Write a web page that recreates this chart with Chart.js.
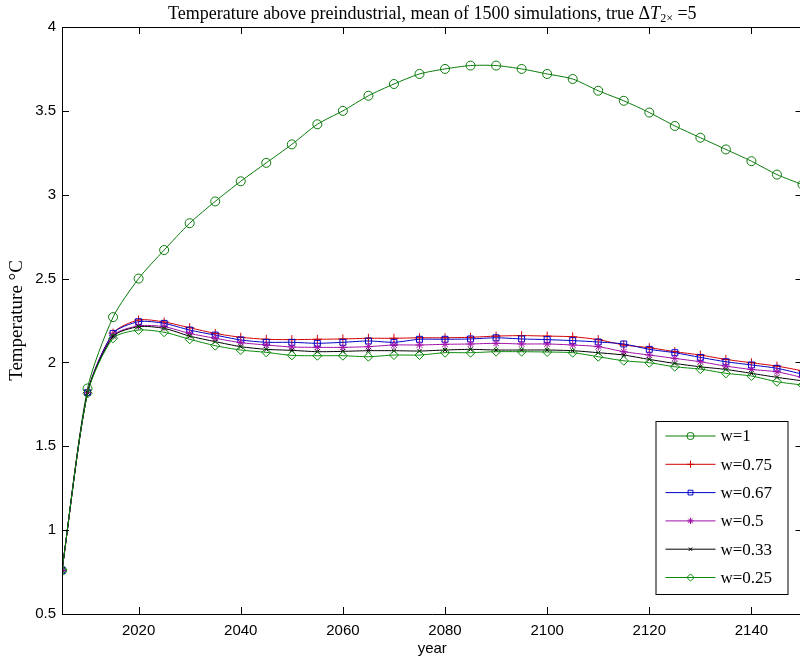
<!DOCTYPE html>
<html>
<head>
<meta charset="utf-8">
<script src="https://cdn.jsdelivr.net/npm/chart.js@4"></script>
<style>
  html, body { margin: 0; padding: 0; background: #fff; overflow: hidden; }
  #wrap { width: 808px; height: 662px; position: relative; }
</style>
</head>
<body>
<div id="wrap"><canvas id="grafica"></canvas></div>
<script>
// years with a marker every 5 years
const years = [2005, 2010, 2015, 2020, 2025, 2030, 2035, 2040, 2045, 2050,
  2055, 2060, 2065, 2070, 2075, 2080, 2085, 2090, 2095, 2100,
  2105, 2110, 2115, 2120, 2125, 2130, 2135, 2140, 2145, 2150];

const w100 = [0.76, 1.845, 2.27, 2.50, 2.67, 2.83, 2.96, 3.08, 3.19, 3.30,
  3.42, 3.50, 3.59, 3.66, 3.72, 3.75, 3.77, 3.77, 3.75, 3.72,
  3.69, 3.62, 3.56, 3.49, 3.41, 3.34, 3.27, 3.20, 3.12, 3.06];
const w075 = [0.76, 1.82, 2.175, 2.253, 2.241, 2.207, 2.173, 2.15, 2.138, 2.136,
  2.138, 2.14, 2.144, 2.144, 2.147, 2.147, 2.15, 2.157, 2.16, 2.157,
  2.153, 2.136, 2.104, 2.088, 2.064, 2.044, 2.018, 1.998, 1.978, 1.95];
const w067 = [0.76, 1.82, 2.173, 2.243, 2.233, 2.193, 2.163, 2.134, 2.12, 2.12,
  2.114, 2.12, 2.128, 2.12, 2.138, 2.138, 2.14, 2.147, 2.14, 2.136,
  2.13, 2.122, 2.11, 2.078, 2.058, 2.03, 2.004, 1.985, 1.965, 1.93];
const w050 = [0.76, 1.82, 2.16, 2.218, 2.213, 2.173, 2.144, 2.118, 2.104, 2.092,
  2.09, 2.09, 2.094, 2.104, 2.104, 2.108, 2.11, 2.114, 2.11, 2.11,
  2.104, 2.094, 2.064, 2.044, 2.024, 2.004, 1.978, 1.958, 1.944, 1.91];
const w033 = [0.76, 1.82, 2.155, 2.213, 2.203, 2.157, 2.124, 2.094, 2.078, 2.072,
  2.064, 2.066, 2.07, 2.07, 2.068, 2.074, 2.078, 2.074, 2.074, 2.074,
  2.07, 2.058, 2.044, 2.018, 1.994, 1.974, 1.958, 1.935, 1.911, 1.89];
const w025 = [0.76, 1.815, 2.144, 2.193, 2.18, 2.138, 2.10, 2.074, 2.06, 2.042,
  2.04, 2.04, 2.034, 2.044, 2.044, 2.058, 2.058, 2.064, 2.064, 2.062,
  2.058, 2.034, 2.01, 1.998, 1.974, 1.96, 1.935, 1.919, 1.885, 1.865];

const seriesLabels = ['w=1', 'w=0.75', 'w=0.67', 'w=0.5', 'w=0.33', 'w=0.25'];
const xTicks = [2020, 2040, 2060, 2080, 2100, 2120, 2140];
const yTicks = [0.5, 1, 1.5, 2, 2.5, 3, 3.5, 4];

const colores = ['#0a7a0a', '#d40000', '#0000c8', '#a010a8', '#000000', '#0a8a0a'];
const marcas = ['circle', 'cross', 'rect', 'star', 'crossRot', 'rectRot'];
const radios = [4.5, 4.5, 4.2, 4, 3, 4.5];
const valores = [w100, w075, w067, w050, w033, w025];

const SANS = '"Liberation Sans", Arial, sans-serif';
const SERIF = '"Liberation Serif", "Times New Roman", serif';

function armarDatasets() {
  return valores.map((serie, i) => ({
    label: seriesLabels[i],
    data: years.map((y, k) => ({ x: y, y: serie[k] })),
    borderColor: colores[i],
    backgroundColor: 'rgba(0,0,0,0)',
    pointBorderColor: colores[i],
    pointBackgroundColor: 'rgba(0,0,0,0)',
    pointStyle: marcas[i],
    pointRadius: radios[i],
    pointBorderWidth: 1,
    borderWidth: 1,
    tension: 0.25,
    order: 6 - i
  }));
}

// marco, ticks hacia adentro, titulo y leyenda estilo MATLAB
const estiloMatlab = {
  id: 'estiloMatlab',
  afterDraw(chart) {
    const ctx = chart.ctx;
    const a = chart.chartArea;
    const sx = chart.scales.x, sy = chart.scales.y;
    ctx.save();
    ctx.strokeStyle = '#000';
    ctx.lineWidth = 1;
    ctx.beginPath();
    ctx.rect(a.left + 0.5, a.top + 0.5, a.right - a.left, a.bottom - a.top);
    ctx.stroke();
    ctx.beginPath();
    xTicks.forEach(t => {
      const px = Math.round(sx.getPixelForValue(t)) + 0.5;
      ctx.moveTo(px, a.bottom); ctx.lineTo(px, a.bottom - 7);
      ctx.moveTo(px, a.top); ctx.lineTo(px, a.top + 7);
    });
    yTicks.forEach(t => {
      const py = Math.round(sy.getPixelForValue(t)) + 0.5;
      ctx.moveTo(a.left, py); ctx.lineTo(a.left + 7, py);
      ctx.moveTo(a.right, py); ctx.lineTo(a.right - 7, py);
    });
    ctx.stroke();

    // titulo con subindice
    const cx = (a.left + a.right) / 2;
    const partes = [
      { t: 'Temperature above preindustrial, mean of 1500 simulations, true \u0394', f: '18px ' + SERIF, dy: 0 },
      { t: 'T', f: 'italic 18px ' + SERIF, dy: 0 },
      { t: '2\u00d7', f: '12px ' + SERIF, dy: 3 },
      { t: ' =5', f: '18px ' + SERIF, dy: 0 }
    ];
    let total = 0;
    partes.forEach(p => { ctx.font = p.f; p.w = ctx.measureText(p.t).width; total += p.w; });
    let x0 = cx - total / 2;
    ctx.fillStyle = '#000';
    ctx.textBaseline = 'alphabetic';
    ctx.textAlign = 'left';
    partes.forEach(p => { ctx.font = p.f; ctx.fillText(p.t, x0, 19 + p.dy); x0 += p.w; });

    // etiqueta eje y
    ctx.save();
    ctx.translate(17, (a.top + a.bottom) / 2);
    ctx.rotate(-Math.PI / 2);
    ctx.font = '19px ' + SERIF;
    ctx.textAlign = 'center';
    ctx.textBaseline = 'middle';
    ctx.fillText('Temperature \u00b0C', 0, 0);
    ctx.restore();

    // leyenda
    const bx = a.right - 147, by = a.bottom - 193, bw = 132, bh = 173;
    ctx.fillStyle = '#fff';
    ctx.fillRect(bx, by, bw, bh);
    ctx.strokeStyle = '#000';
    ctx.strokeRect(bx + 0.5, by + 0.5, bw, bh);
    chart.data.datasets.forEach((ds, i) => {
      const yy = by + 15 + i * 28.3;
      ctx.strokeStyle = ds.borderColor;
      ctx.lineWidth = 1;
      ctx.beginPath();
      ctx.moveTo(bx + 10, yy); ctx.lineTo(bx + 60, yy);
      ctx.stroke();
      ctx.fillStyle = 'rgba(0,0,0,0)';
      Chart.helpers.drawPoint(ctx, {
        pointStyle: ds.pointStyle, radius: ds.pointRadius * 0.8, borderWidth: 1, rotation: 0
      }, bx + 35, yy);
      ctx.fillStyle = '#000';
      ctx.font = '17px ' + SERIF;
      ctx.textAlign = 'left';
      ctx.textBaseline = 'middle';
      ctx.fillText(ds.label, bx + 65, yy + 1);
    });
    ctx.restore();
  }
};

new Chart(document.getElementById('grafica'), {
  type: 'line',
  data: { datasets: armarDatasets() },
  options: {
    responsive: true,
    maintainAspectRatio: false,
    animation: false,
    layout: { padding: { top: 27, right: 2, left: 0, bottom: 0 } },
    plugins: { legend: { display: false }, tooltip: { enabled: false }, title: { display: false } },
    scales: {
      x: {
        type: 'linear',
        min: 2005,
        max: 2150,
        afterBuildTicks: s => { s.ticks = xTicks.map(v => ({ value: v })); },
        afterFit: s => { s.height = 48; },
        grid: { display: false, drawTicks: false },
        border: { display: false },
        ticks: { color: '#000', font: { family: SANS, size: 15 }, padding: 8, maxRotation: 0, callback: v => String(v) },
        title: { display: true, text: 'year', color: '#000', font: { family: SANS, size: 15 }, padding: { top: 0, bottom: 4 } }
      },
      y: {
        min: 0.5,
        max: 4,
        afterBuildTicks: s => { s.ticks = yTicks.map(v => ({ value: v })); },
        afterFit: s => { s.width = 62; },
        grid: { display: false, drawTicks: false },
        border: { display: false },
        ticks: { color: '#000', font: { family: SANS, size: 15 }, padding: 6, callback: v => String(v) }
      }
    }
  },
  plugins: [estiloMatlab]
});
</script>
</body>
</html>
